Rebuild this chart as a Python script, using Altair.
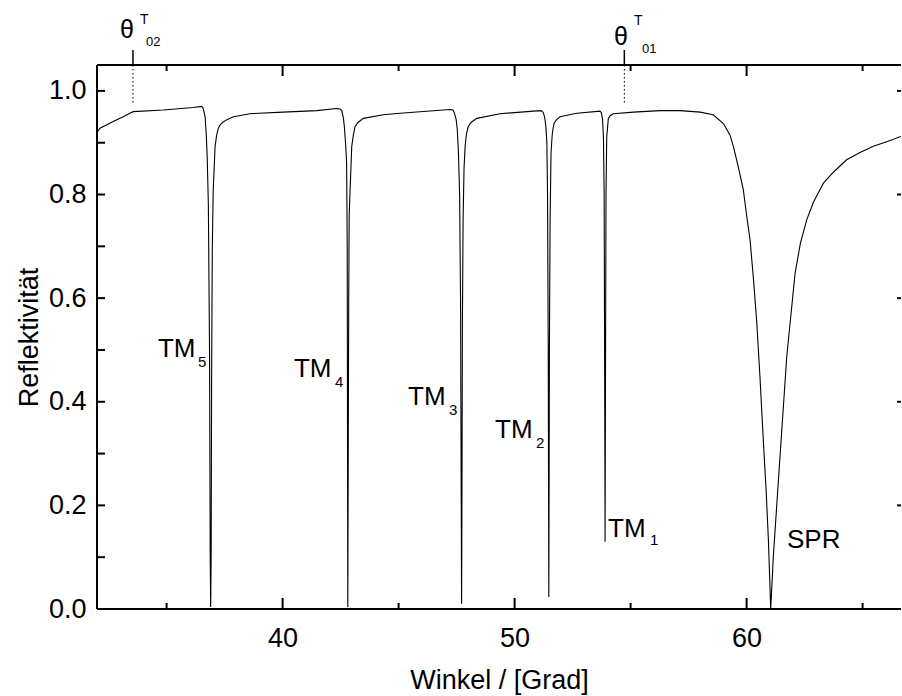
import altair as alt
import pandas as pd

# ---- data ----
angle = [32.00, 32.13, 32.70, 33.13, 33.42, 33.56, 34.86, 36.15, 36.51,
         36.56, 36.60, 36.66, 36.71, 36.75, 36.80, 36.85, 36.88, 36.90, 36.92, 36.94, 36.97, 37.01, 37.09,
         37.16, 37.23, 37.32, 37.44, 37.62, 37.88, 38.59, 40.02, 41.47, 42.33, 42.48,
         42.55, 42.62, 42.66, 42.72, 42.76, 42.785, 42.80, 42.81, 42.83, 42.85, 42.87, 42.91, 42.98, 43.05,
         43.12, 43.25, 43.48, 44.34, 45.06, 47.22, 47.34,
         47.40, 47.48, 47.53, 47.58, 47.63, 47.67, 47.70, 47.715, 47.73, 47.75, 47.78, 47.82, 47.87, 47.93,
         48.00, 48.12, 48.37, 49.37, 50.81, 51.15,
         51.24, 51.30, 51.35, 51.39, 51.42, 51.45, 51.475, 51.50, 51.53, 51.57, 51.62, 51.66, 51.70, 51.80,
         51.96, 52.68, 53.68,
         53.74, 53.79, 53.83, 53.86, 53.885, 53.90, 53.915, 53.94, 53.97, 54.04, 54.12, 54.25,
         55.12, 56.27, 57.13, 58.00, 58.56, 59.00, 59.28, 59.43, 59.64, 59.86, 60.00, 60.15, 60.29,
         60.44, 60.58, 60.72, 60.84, 60.94, 61.04,
         61.15, 61.44, 61.73, 62.09, 62.32, 62.59, 62.88, 63.31, 63.74, 64.31, 64.89, 65.46, 66.04,
         66.66, 67.00]
refl = [0.920, 0.928, 0.941, 0.950, 0.957, 0.960, 0.963, 0.968, 0.970,
        0.968, 0.962, 0.950, 0.915, 0.873, 0.780, 0.500, 0.100, 0.004, 0.100, 0.450, 0.700, 0.809, 0.893,
        0.915, 0.928, 0.935, 0.940, 0.945, 0.950, 0.956, 0.959, 0.962, 0.966, 0.965,
        0.962, 0.948, 0.932, 0.895, 0.860, 0.700, 0.300, 0.004, 0.300, 0.600, 0.760, 0.810, 0.893, 0.915,
        0.931, 0.939, 0.947, 0.954, 0.957, 0.964, 0.963,
        0.958, 0.945, 0.925, 0.880, 0.800, 0.600, 0.200, 0.010, 0.200, 0.550, 0.750, 0.850, 0.895, 0.918,
        0.931, 0.939, 0.947, 0.956, 0.961, 0.962,
        0.958, 0.948, 0.930, 0.900, 0.800, 0.500, 0.023, 0.500, 0.750, 0.880, 0.915, 0.928, 0.937, 0.944,
        0.950, 0.957, 0.961,
        0.958, 0.945, 0.910, 0.800, 0.400, 0.130, 0.400, 0.800, 0.910, 0.947, 0.952, 0.956,
        0.959, 0.962, 0.962, 0.959, 0.954, 0.937, 0.915, 0.893, 0.854, 0.809, 0.760, 0.712, 0.640,
        0.552, 0.445, 0.326, 0.230, 0.133, 0.000,
        0.100, 0.294, 0.487, 0.648, 0.706, 0.751, 0.785, 0.822, 0.843, 0.867, 0.881, 0.893, 0.902,
        0.912, 0.917]

x_major = [40, 50, 60]
x_minor = [35, 45, 55, 65]
y_major = [0.0, 0.2, 0.4, 0.6, 0.8, 1.0]
y_minor = [0.1, 0.3, 0.5, 0.7, 0.9]

# critical angles theta_T
theta_angle = [33.55, 54.73]
theta_top = [1.05, 1.05]
theta_dot_end = [0.975, 0.975]
theta_tick_top = [1.079, 1.079]

# annotations (text, angle, reflectivity at baseline, font size)
ann_text = ["TM", "5", "TM", "4", "TM", "3", "TM", "2", "TM", "1", "SPR",
            "θ", "T", "02", "θ", "T", "01"]
ann_angle = [34.629, 36.353, 40.491, 42.259, 45.405, 47.172, 49.155, 50.922, 54.026, 55.836, 61.741,
             32.991, 33.853, 34.112, 54.284, 55.147, 55.491]
ann_R = [0.4865, 0.4672, 0.4479, 0.4286, 0.3938, 0.3745, 0.3301, 0.3108, 0.1390, 0.1236, 0.1178,
         1.1023, 1.1293, 1.0869, 1.0888, 1.1274, 1.0734]
ann_size = [26, 15, 26, 15, 26, 15, 26, 15, 26, 15, 26,
            25, 14, 13, 25, 14, 13]

# ---- chart ----
W, H = 804, 544
FONT = "Liberation Sans"
xs = alt.Scale(domain=[32.0, 32.0 + 804 / 23.2], nice=False, zero=False)
ys = alt.Scale(domain=[0.0, 1.05], nice=False, zero=False)
axX = alt.Axis(values=x_major, title="Winkel / [Grad]", format="d")
axY = alt.Axis(values=y_major, format=".1f", title="Reflektivität")

def X(field="angle"):
    return alt.X(f"{field}:Q", scale=xs, axis=axX, title="Winkel / [Grad]")

def Y(field="R"):
    return alt.Y(f"{field}:Q", scale=ys, axis=axY, title="Reflektivität")

curve = pd.DataFrame({"angle": angle, "R": refl})

line = alt.Chart(curve).mark_line(color="black", strokeWidth=1.1, clip=True).encode(x=X(), y=Y())

def xticks(vals, y0, y1):
    return alt.Chart(pd.DataFrame({"angle": vals})).mark_rule(color="black", strokeWidth=2).encode(
        x=X(), y=alt.value(y0), y2=alt.value(y1))

def yticks(vals, x0, x1):
    return alt.Chart(pd.DataFrame({"R": vals})).mark_rule(color="black", strokeWidth=2).encode(
        y=Y(), x=alt.value(x0), x2=alt.value(x1))

ticks = [
    xticks(x_major, H, H - 11), xticks(x_minor, H, H - 6),
    xticks(x_major, 0, 11), xticks(x_minor, 0, 6),
    yticks(y_major + y_minor, 0, 8),
    yticks(y_major, W - 4, W),
]

one = pd.DataFrame({"k": [0]})
frame = [
    alt.Chart(one).mark_rule(color="black", strokeWidth=2).encode(
        x=alt.value(0), x2=alt.value(W), y=alt.value(H)),
    alt.Chart(one).mark_rule(color="black", strokeWidth=2).encode(
        x=alt.value(0), x2=alt.value(W), y=alt.value(0)),
    alt.Chart(one).mark_rule(color="black", strokeWidth=2).encode(
        x=alt.value(0), y=alt.value(0), y2=alt.value(H)),
]

theta_df = pd.DataFrame({"angle": theta_angle, "R": theta_top,
                         "dot": theta_dot_end, "ttop": theta_tick_top})
theta_dots = alt.Chart(theta_df).mark_rule(color="black", strokeWidth=1, strokeDash=[1.5, 2.5]).encode(
    x=X(), y=Y(), y2="dot:Q")
theta_ticks = alt.Chart(theta_df).mark_rule(color="black", strokeWidth=1.5, clip=False).encode(
    x=X(), y=Y("ttop"), y2="R:Q")

ann_df = pd.DataFrame({"text": ann_text, "angle": ann_angle, "R": ann_R, "size": ann_size})
ann = alt.Chart(ann_df).mark_text(align="left", baseline="alphabetic", font=FONT,
                                  color="black", clip=False).encode(
    x=X(), y=Y(),
    text="text:N",
    size=alt.Size("size:Q", scale=None, legend=None),
)

chart = alt.layer(line, *ticks, *frame, theta_dots, theta_ticks, ann).properties(
    width=W, height=H,
    autosize=alt.AutoSizeParams(type="none"),
    padding={"left": 97, "top": 65, "right": 1, "bottom": 87},
    background="white",
).configure_view(stroke=None).configure_axis(
    domain=False, ticks=False, tickSize=0, grid=False,
    labelFont=FONT, labelFontSize=27, labelColor="black",
    titleFont=FONT, titleFontSize=27, titleFontWeight="normal", titleColor="black",
).configure_axisX(
    labelPadding=16, titleBaseline="alphabetic", titleY=79,
).configure_axisY(
    labelPadding=11, titleBaseline="alphabetic", titleX=-60,
)

chart.save("out.html", embed_options={"renderer": "svg", "actions": False})
